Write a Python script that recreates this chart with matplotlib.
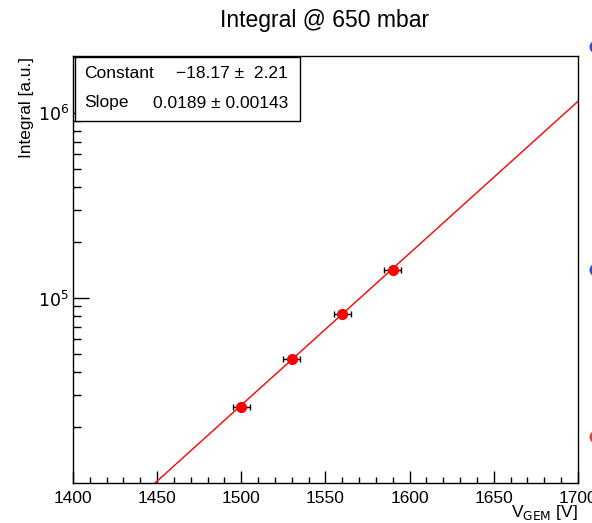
import numpy as np
import matplotlib
matplotlib.use("Agg")
import matplotlib.pyplot as plt
from matplotlib.patches import Ellipse, Rectangle
from matplotlib.ticker import LogLocator, FixedLocator, FixedFormatter, MultipleLocator, NullFormatter

plt.rcParams['font.family'] = ['Liberation Sans', 'DejaVu Sans']

# measured points
v_gem = [1500, 1530, 1560, 1590]
v_err = [5, 5, 5, 5]
integral = [25800, 46800, 81600, 141700]

# exponential fit parameters
fit_const = -18.17
fit_const_err = 2.21
fit_slope = 0.0189
fit_slope_err = 0.00143

W, H = 592, 523
fig = plt.figure(figsize=(W / 100, H / 100), dpi=100)
ax = fig.add_axes([73 / W, (H - 483) / H, 505 / W, 427 / H])

xs = np.linspace(1400, 1700, 400)
ax.plot(xs, np.exp(fit_const + fit_slope * xs), color="red", lw=1.0, zorder=2)

ax.errorbar(v_gem, integral, xerr=v_err, fmt="o", color="red", ms=7,
            ecolor="black", elinewidth=1.0, capsize=2.5, capthick=1.0, zorder=3)

ax.set_yscale("log")
ax.set_xlim(1400, 1700)
ax.set_ylim(1e4, 2.03e6)

ax.xaxis.set_major_locator(MultipleLocator(50))
ax.xaxis.set_minor_locator(MultipleLocator(10))
ax.yaxis.set_major_locator(FixedLocator([1e5, 1e6]))
ax.yaxis.set_major_formatter(FixedFormatter([r"$10^5$", r"$10^6$"]))
ax.yaxis.set_minor_locator(LogLocator(base=10, subs=np.arange(2, 10)))
ax.yaxis.set_minor_formatter(NullFormatter())

ax.tick_params(which="both", direction="in", top=False, right=False, labelsize=12.5, width=1.0)
ax.tick_params(axis="x", which="major", length=9, pad=6)
ax.tick_params(axis="x", which="minor", length=4.5)
ax.tick_params(axis="y", which="major", length=11.5, pad=3)
ax.tick_params(axis="y", which="minor", length=5.5)
for s in ax.spines.values():
    s.set_linewidth(1.0)

fig.text(325 / W, 1 - 20 / H, "Integral @ 650 mbar", ha="center", va="center", fontsize=16.5)
fig.text(27 / W, 1 - 107 / H, "Integral [a.u.]", rotation=90, ha="center", va="center", fontsize=12.4)
fig.text(578 / W, 1 - 512 / H, r"V$_{\mathrm{GEM}}$ [V]", ha="right", va="center", fontsize=12.5)

# stats box
box = Rectangle((75 / W, 1 - 121 / H), 225 / W, 64 / H, transform=fig.transFigure,
                facecolor="white", edgecolor="black", lw=1.0, zorder=5)
fig.patches.append(box)
fig.text(84 / W, 1 - 73 / H, "Constant", ha="left", va="center", fontsize=12.5, zorder=6)
fig.text(288 / W, 1 - 73 / H, "\u221218.17 \u00b1  %.2f" % fit_const_err,
         ha="right", va="center", fontsize=12.5, zorder=6)
fig.text(84 / W, 1 - 103 / H, "Slope", ha="left", va="center", fontsize=12.5, zorder=6)
fig.text(288 / W, 1 - 103 / H, "%.4f \u00b1 %.5f" % (fit_slope, fit_slope_err),
         ha="right", va="center", fontsize=12.5, zorder=6)

# markers peeking in at the right edge
for y, c in [(47, "#2a4de0"), (270, "#2a4de0"), (437, "#e8402a")]:
    fig.patches.append(Ellipse((596 / W, 1 - y / H), 13 / W, 13 / H, transform=fig.transFigure,
                               facecolor=c, edgecolor="none"))

fig.savefig("out.png", dpi=100)
